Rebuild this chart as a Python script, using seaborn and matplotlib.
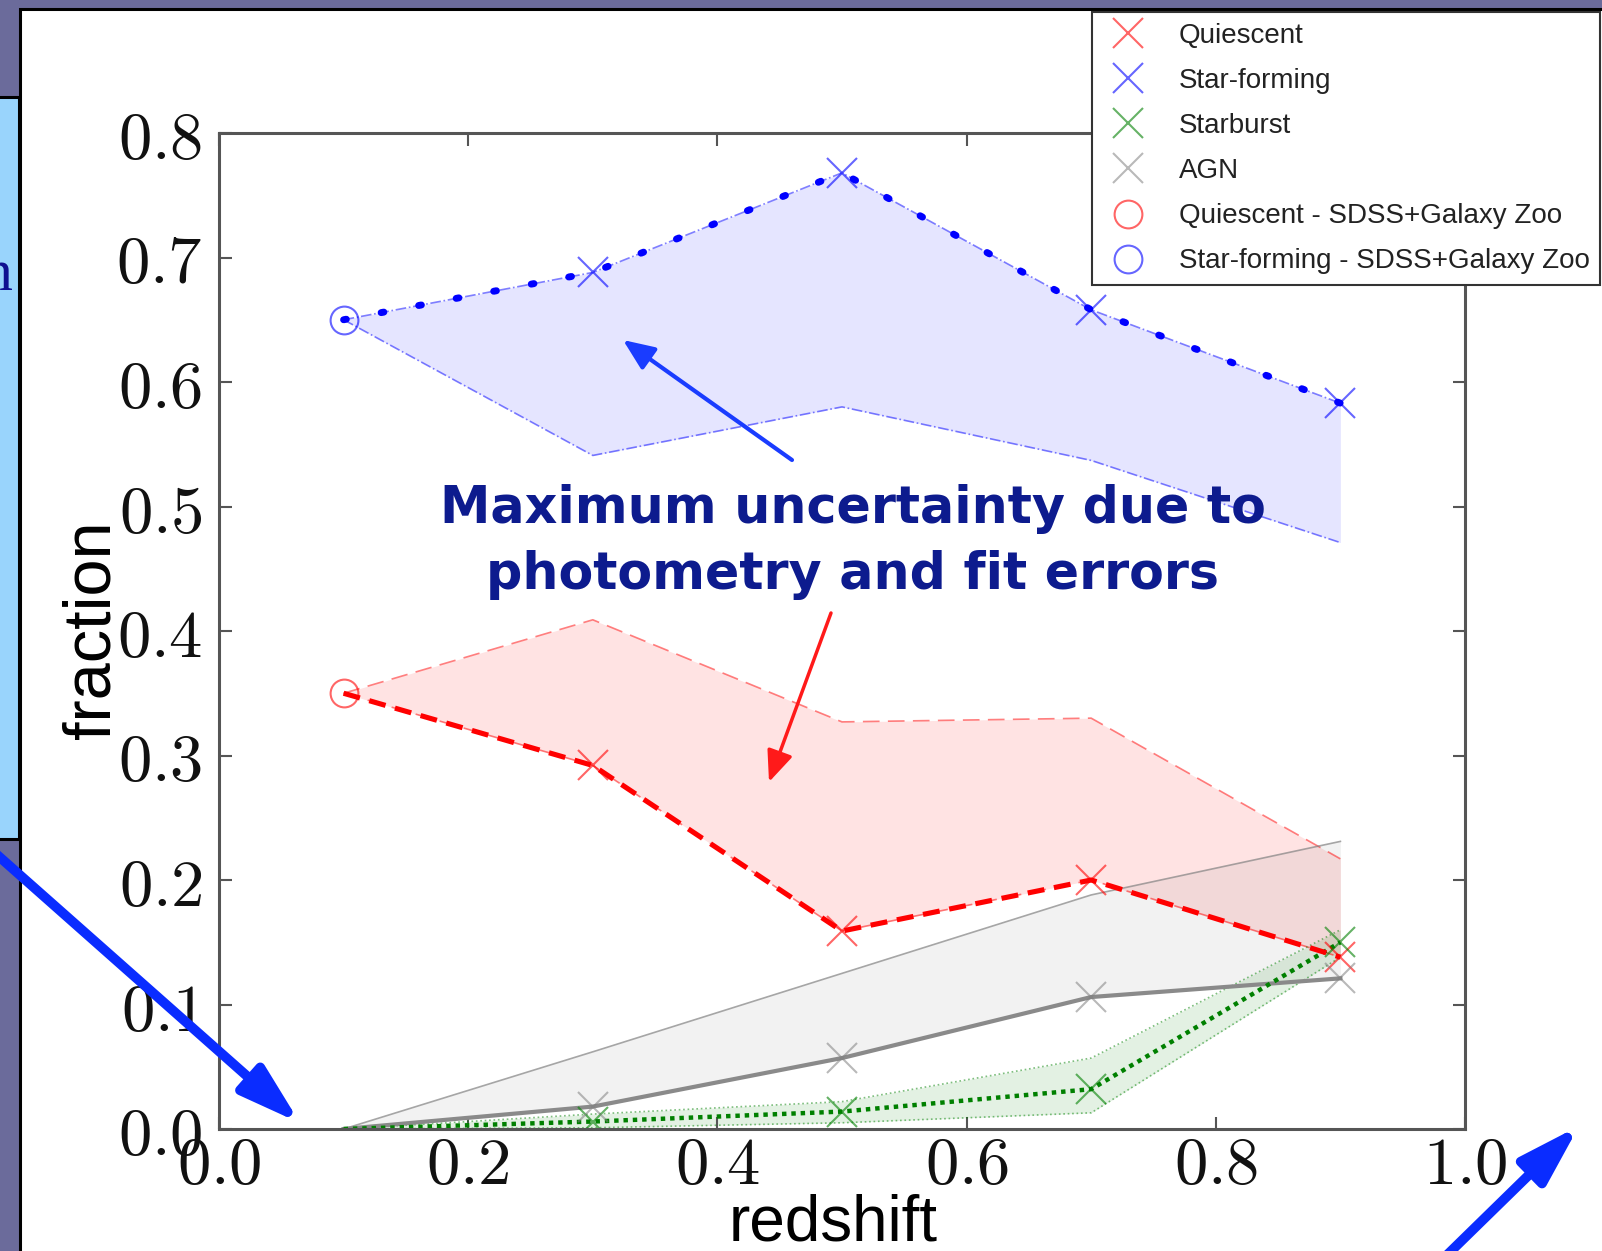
import matplotlib
matplotlib.use("Agg")
import matplotlib.pyplot as plt
from matplotlib.lines import Line2D
from matplotlib.patches import Rectangle, FancyArrowPatch, ArrowStyle
import seaborn as sns

# ---------------- data ----------------
redshift = [0.1, 0.3, 0.5, 0.7, 0.9]
quiescent = [0.350, 0.292, 0.159, 0.200, 0.138]
quiescent_hi = [0.350, 0.409, 0.327, 0.330, 0.217]
starforming = [0.650, 0.688, 0.768, 0.658, 0.583]
starforming_lo = [0.650, 0.541, 0.580, 0.537, 0.471]
starburst = [0.000, 0.006, 0.014, 0.032, 0.150]
starburst_hi = [0.000, 0.012, 0.022, 0.057, 0.160]
starburst_lo = [0.000, 0.001, 0.005, 0.013, 0.138]
agn = [0.000, 0.018, 0.057, 0.106, 0.121]
agn_hi = [0.000, 0.062, 0.125, 0.188, 0.231]
sdss_z = [0.1]
sdss_quiescent = [0.35]
sdss_starforming = [0.65]

xticks = [0.0, 0.2, 0.4, 0.6, 0.8, 1.0]
xtick_labels = ["0.0", "0.2", "0.4", "0.6", "0.8", "1.0"]
yticks = [0.0, 0.1, 0.2, 0.3, 0.4, 0.5, 0.6, 0.7, 0.8]
ytick_labels = ["0.0", "0.1", "0.2", "0.3", "0.4", "0.5", "0.6", "0.7", "0.8"]
legend_labels = ["Quiescent", "Star-forming", "Starburst", "AGN",
                 "Quiescent - SDSS+Galaxy Zoo", "Star-forming - SDSS+Galaxy Zoo"]
annotation_text = "Maximum uncertainty due to\nphotometry and fit errors"

plt.rcParams["mathtext.fontset"] = "cm"

W, H = 1602, 1251


def fx(px):
    return px / W


def fy(py):
    return 1 - py / H


fig = plt.figure(figsize=(W / 100, H / 100), dpi=100, facecolor="#6b6b9b")

# slide panels
fig.add_artist(Rectangle((fx(20), -0.01), 1.0, fy(9) + 0.01, transform=fig.transFigure,
                         facecolor="white", edgecolor="black", lw=2.2, zorder=-10))
fig.add_artist(Rectangle((-0.01, fy(839)), fx(19) + 0.01, fy(97) - fy(839), transform=fig.transFigure,
                         facecolor="#99d4fc", edgecolor="black", lw=2.2, zorder=-9))
fig.text(fx(13), fy(290), "n", ha="right", va="baseline", fontsize=43,
         family="Liberation Serif", color="#101090")

ax = fig.add_axes([fx(219), fy(1129), fx(1465) - fx(219), fy(133) - fy(1129)])
ax.set_facecolor("white")

RED, BLUE, GREEN, GREY = "#ff0000", "#0000ff", "#008000", "#808080"

# uncertainty bands
ax.fill_between(redshift, starforming_lo, starforming, color=BLUE, alpha=0.10, lw=0)
ax.fill_between(redshift, quiescent, quiescent_hi, color=RED, alpha=0.11, lw=0)
ax.fill_between(redshift, agn, agn_hi, color=GREY, alpha=0.10, lw=0)
ax.fill_between(redshift, starburst_lo, starburst_hi, color=GREEN, alpha=0.11, lw=0)

# thin band edges
for y in (starforming_lo, starforming):
    sns.lineplot(x=redshift, y=y, ax=ax, color=BLUE, alpha=0.5, lw=1.2, linestyle="-.", errorbar=None)
for y in (quiescent_hi, quiescent):
    sns.lineplot(x=redshift, y=y, ax=ax, color=RED, alpha=0.5, lw=1.2, dashes=(10, 5), errorbar=None)
for y in (starburst_lo, starburst_hi):
    sns.lineplot(x=redshift, y=y, ax=ax, color=GREEN, alpha=0.5, lw=1.2, linestyle=":", errorbar=None)
sns.lineplot(x=redshift, y=agn_hi, ax=ax, color=GREY, alpha=0.7, lw=1.2, linestyle="-", errorbar=None)

# main lines
sns.lineplot(x=redshift, y=agn, ax=ax, color="#8a8a8a", lw=3.0, linestyle="-", errorbar=None)
sns.lineplot(x=redshift, y=starburst, ax=ax, color=GREEN, lw=3.2, dashes=(1, 1.1), errorbar=None)
sns.lineplot(x=redshift, y=quiescent, ax=ax, color=RED, lw=3.7, dashes=(3.3, 1.9), errorbar=None)
sns.lineplot(x=redshift, y=starforming, ax=ax, color=BLUE, lw=5.0, dashes=(0.4, 5.1),
             dash_capstyle="round", errorbar=None)

# markers
marker_sets = [
    (quiescent, (1, 0, 0, 0.6)),
    (starforming, (0, 0, 1, 0.6)),
    (starburst, (0, 0.5, 0, 0.6)),
    (agn, (0.5, 0.5, 0.5, 0.55)),
]
for y, c in marker_sets:
    sns.lineplot(x=redshift[1:], y=y[1:], ax=ax, marker="x", linestyle="", markersize=22,
                 markeredgewidth=1.5, markeredgecolor=c, color=c, errorbar=None)
sns.lineplot(x=sdss_z, y=sdss_quiescent, ax=ax, marker="o", linestyle="", markersize=20,
             markerfacecolor="none", markeredgecolor=(1, 0, 0, 0.6), markeredgewidth=1.5, errorbar=None)
sns.lineplot(x=sdss_z, y=sdss_starforming, ax=ax, marker="o", linestyle="", markersize=20,
             markerfacecolor="none", markeredgecolor=(0, 0, 1, 0.6), markeredgewidth=1.5, errorbar=None)

# axes styling
ax.set_xlim(0, 1)
ax.set_ylim(0, 0.8)
ax.set_xticks(xticks)
ax.set_xticklabels([f"${t}$" for t in xtick_labels])
ax.set_yticks(yticks)
ax.set_yticklabels([f"${t}$" for t in ytick_labels])
ax.tick_params(direction="in", length=9, width=1.5, color="#555555", top=True, right=True,
               labelsize=48, labelcolor="#111111")
ax.tick_params(axis="y", pad=12)
ax.tick_params(axis="x", pad=2)
for s in ax.spines.values():
    s.set_color("#555555")
    s.set_linewidth(2.2)

ax.set_xlabel("redshift", fontsize=46, family="Liberation Sans")
ax.xaxis.set_label_coords(0.4928, -0.1124)
ax.xaxis.label.set_va("baseline")
ax.set_ylabel("fraction", fontsize=48, family="Liberation Sans")
ax.yaxis.set_label_coords(-0.1015, 0.501)
ax.yaxis.label.set_va("center")

# legend
handles = [
    Line2D([], [], marker="x", ls="", ms=22, mew=1.5, mec=(1, 0, 0, 0.6)),
    Line2D([], [], marker="x", ls="", ms=22, mew=1.5, mec=(0, 0, 1, 0.6)),
    Line2D([], [], marker="x", ls="", ms=22, mew=1.5, mec=(0, 0.5, 0, 0.6)),
    Line2D([], [], marker="x", ls="", ms=22, mew=1.5, mec=(0.5, 0.5, 0.5, 0.55)),
    Line2D([], [], marker="o", ls="", ms=20, mew=1.5, mfc="none", mec=(1, 0, 0, 0.6)),
    Line2D([], [], marker="o", ls="", ms=20, mew=1.5, mfc="none", mec=(0, 0, 1, 0.6)),
]
leg = ax.legend(handles, legend_labels, loc="upper right",
                bbox_to_anchor=(fx(1600), fy(12)), bbox_transform=fig.transFigure,
                borderaxespad=0, prop={"family": "Liberation Sans", "size": 20},
                labelspacing=0.69, borderpad=0.38, handlelength=1.88, handletextpad=0.87,
                fancybox=False, framealpha=1, edgecolor="#333333", labelcolor="#222222")
leg.get_frame().set_linewidth(1.5)

# annotation
fig.text(fx(853), fy(542), annotation_text, ha="center", va="center", fontsize=36.5,
         fontweight="bold", family="DejaVu Sans", color="#0d1b8e", linespacing=1.4,
         multialignment="center")


def arrow(p0, p1, color, lw, hl, hw):
    fig.add_artist(FancyArrowPatch((fx(p0[0]), fy(p0[1])), (fx(p1[0]), fy(p1[1])),
                                   transform=fig.transFigure,
                                   arrowstyle=ArrowStyle("-|>", head_length=hl, head_width=hw),
                                   mutation_scale=10, lw=lw, color=color,
                                   shrinkA=0, shrinkB=0, zorder=20))


arrow((792, 460), (623, 340), "#1a3cff", 3.0, 1.9, 0.8)
arrow((831, 613), (769, 782), "#ff1a1a", 2.5, 1.9, 0.8)
arrow((-5, 853), (300, 1123), "#0a2cff", 7.0, 3.6, 1.1)
arrow((1446, 1256), (1579, 1126), "#0a2cff", 7.0, 3.6, 1.1)

fig.savefig("out.png", dpi=100, facecolor=fig.get_facecolor())
